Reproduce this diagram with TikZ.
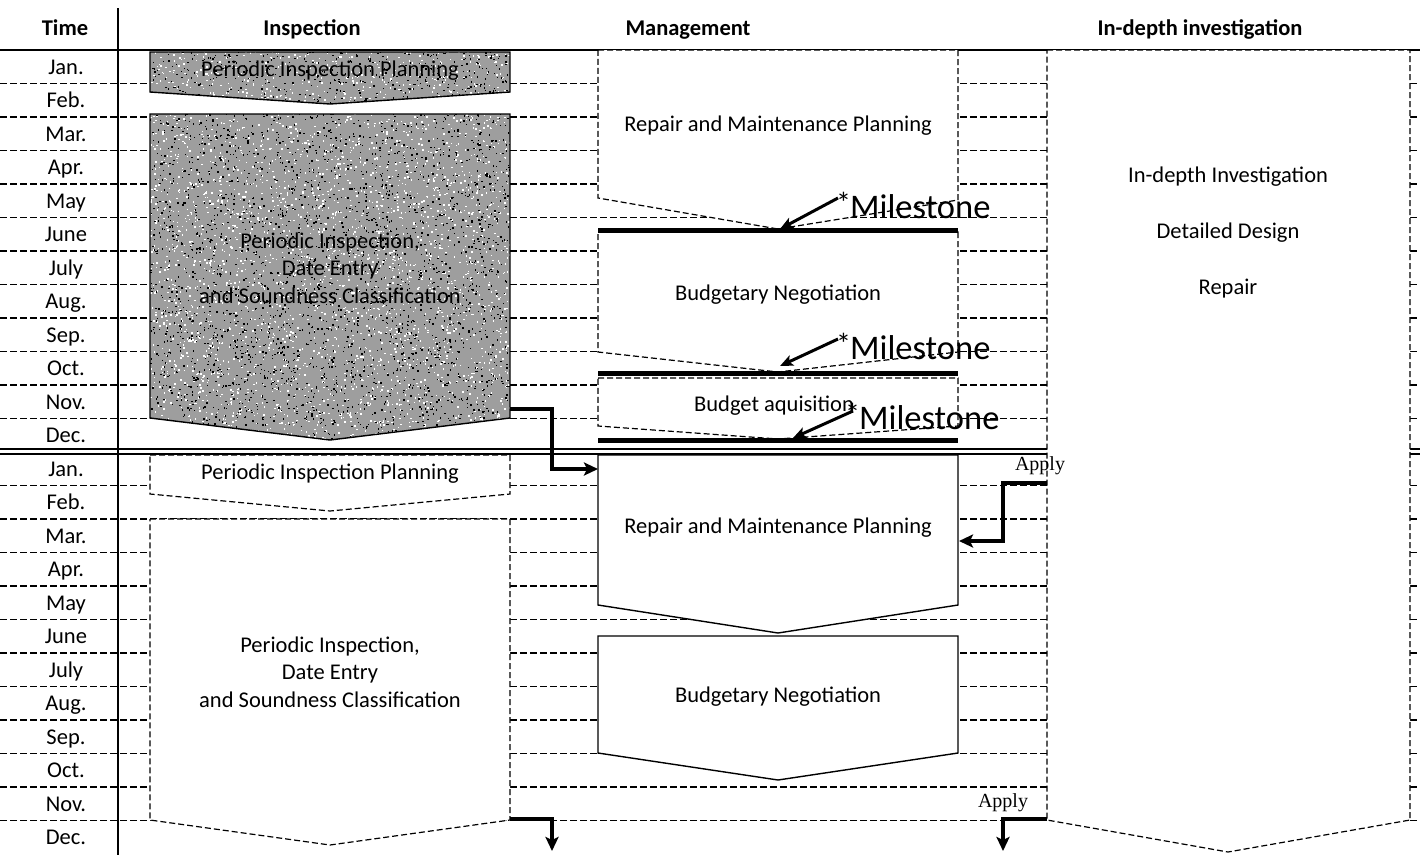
\documentclass[tikz,border=0pt]{standalone}
\usepackage{fontspec}
\setmainfont{Carlito}
\newfontfamily\applyfont{Liberation Serif}
\usetikzlibrary{arrows.meta}

\begin{document}
\begin{tikzpicture}[x=1pt,y=-1pt,
  lbl/.style={font=\fontsize{22.5}{27.5}\selectfont, align=center, inner sep=1pt},
  mon/.style={font=\fontsize{22.5}{27.5}\selectfont, anchor=base, inner sep=0pt},
  hdr/.style={font=\fontsize{22.5}{27}\selectfont\bfseries, anchor=base, inner sep=0pt},
  rowsep/.style={line width=1.6pt, dash pattern=on 7pt off 3pt},
  dbox/.style={draw, fill=white, line width=1.2pt, dash pattern=on 6pt off 3pt, line join=miter},
  sbox/.style={draw, fill=white, line width=1.4pt},
  gbox/.style={draw, line width=1.4pt},
  milebar/.style={line width=5pt},
  milearrow/.style={line width=3pt, -{Stealth[length=13pt,width=11pt,inset=3pt]}},
  flow/.style={line width=3.4pt, -{Stealth[length=14pt,width=13pt,inset=3pt]}},
  mtext/.style={font=\fontsize{34.5}{34.5}\selectfont, anchor=base west, inner sep=0pt},
  applytext/.style={font=\applyfont\fontsize{20}{20}\selectfont, inner sep=0pt}
]
\newcommand\starmark{\raisebox{5pt}{\fontsize{30}{30}\selectfont *}\kern-1pt}
\useasboundingbox (0,0) rectangle (1420,855);
\fill[white] (0,0) rectangle (1420,855);

% month separators (dashed), year boundary and top rule
\foreach \k in {1,...,11,13,14,...,23}
  \draw[rowsep] (0,{50+33.5*\k}) -- (1420,{50+33.5*\k});
\draw[line width=1.3pt] (0,50) -- (1420,50);
\draw[line width=1.3pt] (0,449) -- (1420,449);
\draw[line width=1.3pt] (0,454) -- (1420,454);

% column headers
\node[hdr] (hTime) at (65,35) {Time};
\node[hdr] (hInsp) at (312,35) {Inspection};
\node[hdr] (hMgmt) at (688,35) {Management};
\node[hdr] (hDepth) at (1200,35) {In-depth investigation};

% month labels
\foreach \m [count=\i from 0] in {Jan.,Feb.,Mar.,Apr.,May,June,July,Aug.,Sep.,Oct.,Nov.,Dec.,Jan.,Feb.,Mar.,Apr.,May,June,July,Aug.,Sep.,Oct.,Nov.,Dec.}
  \node[mon] (m\i) at (66,{50+33.5*(\i+0.5)+7.5}) {\m};

\draw[line width=1.3pt] (118,8) -- (118,855);

% ---------- Inspection, first year (speckled grey) ----------
\begin{scope}
  \clip (150,52) -- (510,52) -- (510,92) -- (330,104) -- (150,92) -- cycle
        (150,114) -- (510,114) -- (510,418) -- (330,440) -- (150,418) -- cycle;
  \fill[black!38] (150,50) rectangle (510,442);
  \pgfmathsetseed{42}
  \foreach \i in {1,...,3200} {
    \pgfmathsetmacro\px{150+360*rnd}
    \pgfmathsetmacro\py{50+392*rnd}
    \fill[white] (\px,\py) rectangle ++(1.5,1.5);
  }
  \foreach \i in {1,...,3200} {
    \pgfmathsetmacro\px{150+360*rnd}
    \pgfmathsetmacro\py{50+392*rnd}
    \fill[black] (\px,\py) rectangle ++(1.4,1.4);
  }
\end{scope}
\draw[gbox] (150,52) -- (510,52) -- (510,92) -- (330,104) -- (150,92) -- cycle;
\draw[gbox] (150,114) -- (510,114) -- (510,418) -- (330,440) -- (150,418) -- cycle;
\node[lbl] (ip1) at (330,71) {Periodic Inspection Planning};
\node[lbl] (pi1) at (330,268) {Periodic Inspection,\\Date Entry\\and Soundness Classification};

% ---------- Inspection, second year ----------
\draw[dbox] (150,455) -- (510,455) -- (510,494) -- (330,511) -- (150,494) -- cycle;
\draw[dbox] (150,519) -- (510,519) -- (510,820) -- (330,845) -- (150,820) -- cycle;
\node[lbl] (ip2) at (330,474) {Periodic Inspection Planning};
\node[lbl] (pi2) at (330,672) {Periodic Inspection,\\Date Entry\\and Soundness Classification};

% ---------- Management, first year ----------
\draw[dbox] (598,50) -- (958,50) -- (958,200) -- (778,229) -- (598,198) -- cycle;
\draw[dbox] (598,232) -- (958,232) -- (958,352) -- (778,372) -- (598,352) -- cycle;
\draw[dbox] (598,378) -- (958,378) -- (958,426) -- (778,439) -- (598,426) -- cycle;
\node[lbl] (rm1) at (778,126) {Repair and Maintenance Planning};
\node[lbl] (bn1) at (778,295) {Budgetary Negotiation};
\node[lbl] (ba1) at (774,406) {Budget aquisition};
\draw[milebar] (598,230) -- (958,230);
\draw[milebar] (598,373) -- (958,373);
\draw[milebar] (598,440) -- (958,440);

% milestones
\node[mtext] (ms1) at (836,218) {\starmark Milestone};
\node[mtext] (ms2) at (836,359) {\starmark Milestone};
\node[mtext] (ms3) at (845,429) {\starmark Milestone};
\coordinate (ms1t) at (838,198);
\coordinate (ms2t) at (838,339);
\coordinate (ms3t) at (853,411);
\coordinate (bar1) at (780,229);
\coordinate (bar2) at (780,366);
\coordinate (bar3) at (793,438);
\draw[milearrow] (ms1t) -- (bar1);
\draw[milearrow] (ms2t) -- (bar2);
\draw[milearrow] (ms3t) -- (bar3);

% ---------- Management, second year ----------
\draw[sbox] (598,455) -- (958,455) -- (958,605) -- (778,633) -- (598,605) -- cycle;
\draw[sbox] (598,636) -- (958,636) -- (958,753) -- (778,780) -- (598,753) -- cycle;
\node[lbl] (rm2) at (778,528) {Repair and Maintenance Planning};
\node[lbl] (bn2) at (778,697) {Budgetary Negotiation};

% ---------- In-depth investigation ----------
\draw[dbox] (1047,50) -- (1410,50) -- (1410,820) -- (1228,852) -- (1047,820) -- cycle;
\node[lbl] (id1) at (1228,177) {In-depth Investigation};
\node[lbl] (id2) at (1228,233) {Detailed Design};
\node[lbl] (id3) at (1228,289) {Repair};

% ---------- connectors ----------
\coordinate (piOut) at (510,409);
\coordinate (rmIn) at (598,469);
\draw[flow] (piOut) -- (552,409) |- (rmIn);

\coordinate (idOut1) at (1047,483);
\coordinate (rmIn2) at (959,541);
\draw[flow] (idOut1) -- (1003,483) |- (rmIn2);
\node[applytext] (ap1) at (1040,466) {Apply};

\coordinate (idOut2) at (1047,819);
\coordinate (nextA) at (1003,851);
\draw[flow] (idOut2) -| (nextA);
\node[applytext] (ap2) at (1003,803) {Apply};

\coordinate (piOut2) at (510,819);
\coordinate (nextB) at (552,851);
\draw[flow] (piOut2) -| (nextB);
\end{tikzpicture}
\end{document}
